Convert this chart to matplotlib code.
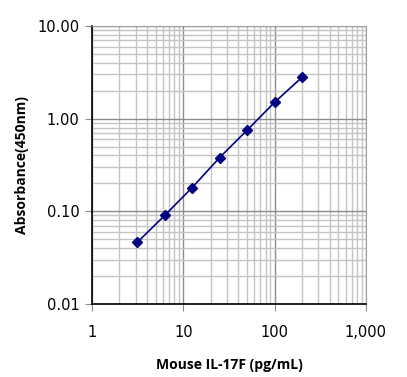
import matplotlib
matplotlib.use("Agg")
import matplotlib.pyplot as plt
from matplotlib.ticker import FixedLocator, LogLocator, NullFormatter

# standard curve data
conc = [3.125, 6.25, 12.5, 25, 50, 100, 200]
absorb = [0.046, 0.09, 0.18, 0.38, 0.75, 1.5, 2.8]

x_ticks = [1, 10, 100, 1000]
x_labels = ["1", "10", "100", "1,000"]
y_ticks = [0.01, 0.1, 1, 10]
y_labels = ["0.01", "0.10", "1.00", "10.00"]

fig = plt.figure(figsize=(4.07, 3.77), dpi=100)
ax = fig.add_axes([0.226, 0.194, 0.673, 0.737])

ax.set_xscale("log")
ax.set_yscale("log")
ax.set_xlim(1, 1000)
ax.set_ylim(0.01, 10)

ax.xaxis.set_major_locator(FixedLocator(x_ticks))
ax.yaxis.set_major_locator(FixedLocator(y_ticks))
ax.xaxis.set_minor_locator(LogLocator(base=10, subs=range(2, 10)))
ax.yaxis.set_minor_locator(LogLocator(base=10, subs=range(2, 10)))
ax.xaxis.set_minor_formatter(NullFormatter())
ax.yaxis.set_minor_formatter(NullFormatter())
ax.set_xticklabels(x_labels)
ax.set_yticklabels(y_labels)

ax.grid(which="major", color="#8c8c8c", lw=1.0)
ax.grid(which="minor", color="#c4c4c4", lw=1.0)
ax.set_axisbelow(True)

ax.tick_params(which="major", direction="out", length=5, color="#8c8c8c",
               labelsize=10.5)
ax.tick_params(axis="x", which="major", pad=10)
ax.tick_params(axis="y", which="major", pad=4)
ax.tick_params(which="minor", length=0)

for s in ["top", "right"]:
    ax.spines[s].set_color("#a0a0a0")
for s in ["left", "bottom"]:
    ax.spines[s].set_color("black")
    ax.spines[s].set_linewidth(1.2)

ax.plot(conc, absorb, color="#000080", lw=1.2, marker="D", ms=5,
        mfc="#000080", mec="#000080", clip_on=False, zorder=5)

ax.set_xlabel("Mouse IL-17F (pg/mL)", fontsize=10, fontweight="bold",
              family="Open Sans", labelpad=13)
ax.set_ylabel("Absorbance(450nm)", fontsize=10, fontweight="bold",
              family="Open Sans", labelpad=6)

fig.savefig("out.png", dpi=100, facecolor="white")
